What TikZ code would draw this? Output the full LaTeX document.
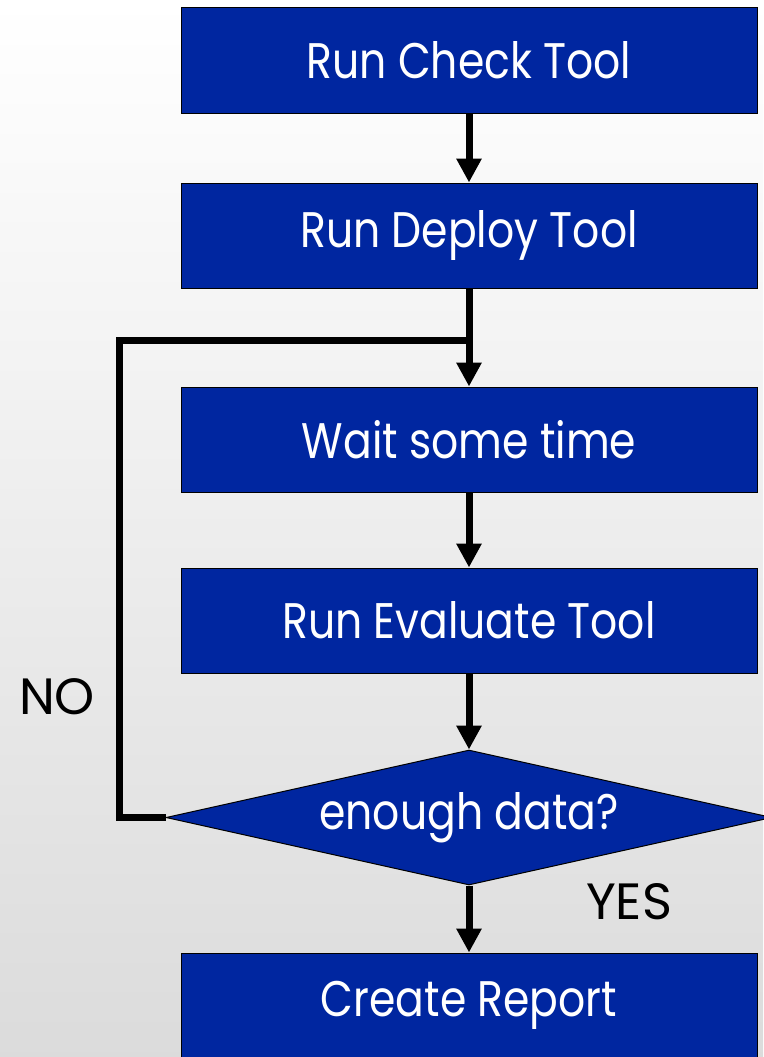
\documentclass[tikz,border=0pt]{standalone}
\usepackage{fontspec}
\setmainfont{Poppins}[FakeStretch=0.85]
\newfontfamily\lblfont{Poppins}
\usetikzlibrary{arrows.meta,shapes.geometric}
\definecolor{boxblue}{RGB}{0,38,160}
\begin{document}
\begin{tikzpicture}[x=1pt,y=-1pt,
  stepbox/.style={draw=black,line width=1pt,fill=boxblue,text=white,minimum width=576pt,minimum height=105pt,inner sep=0pt,font=\fontsize{50}{60}\selectfont},
  decision/.style={diamond,draw=black,line width=1pt,fill=boxblue,minimum width=606pt,minimum height=135pt,inner sep=0pt},
  dtext/.style={text=white,inner sep=0pt,font=\fontsize{50}{60}\selectfont},
  flow/.style={line width=7pt,-{Triangle[width=24pt,length=24pt]}},
  loopline/.style={line width=7pt},
  lbl/.style={font=\lblfont\fontsize{51}{60}\selectfont,text=black,inner sep=0pt}]
\shade[top color=white,bottom color=black!14] (0,0) rectangle (763,1057);
\useasboundingbox (0,0) rectangle (763,1057);
\node[stepbox] (b1) at (469,60.5) {Run Check Tool};
\node[stepbox] (b2) at (469,235.5) {Run Deploy Tool};
\node[stepbox] (b3) at (469,439.5) {Wait some time};
\node[stepbox] (b4) at (469,620.5) {Run Evaluate Tool};
\node[decision] (d) at (469,817.5) {};
\node[dtext] (dt) at (469,817.5) {enough data?};
\node[stepbox] (b5) at (469,1005.5) {Create Report};
\coordinate (j) at (469,340);
\coordinate (lc) at (119,340);
\draw[flow] (b1.south) -- (b2.north);
\draw[flow] (b2.south) -- (b3.north);
\draw[flow] (b3.south) -- (b4.north);
\draw[flow] (b4.south) -- (d.north);
\draw[flow] (d.south) -- (b5.north);
\draw[loopline] (d.west) -| (lc) -- (j);
\node[lbl] (no) at (57,697) {NO};
\node[lbl] (yes) at (629,902) {YES};
\end{tikzpicture}
\end{document}
